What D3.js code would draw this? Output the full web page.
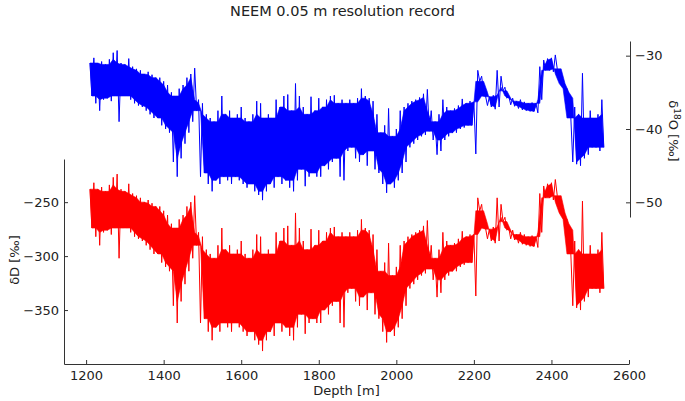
<!DOCTYPE html>
<html><head><meta charset="utf-8">
<script src="https://cdn.jsdelivr.net/npm/d3@7"></script>
<style>
html,body{margin:0;padding:0;background:#fff;}
svg{display:block;font-family:"DejaVu Sans",sans-serif;}
</style></head><body>
<svg id="chart" width="685" height="401"></svg>
<script>
const titleText = "NEEM 0.05 m resolution record";
const xTicks = [1200, 1400, 1600, 1800, 2000, 2200, 2400, 2600];
const dDTicks = [-250, -300, -350];
const d18OTicks = [-30, -40, -50];

// depth of each reading [m]
const depth = [
1210,1215,1220,1225,1230,1235,1240,1245,1250,1255,1260,1265,1270,1275,1280,1285,1290,1295,1300,1305,
1310,1315,1320,1325,1330,1335,1340,1345,1350,1355,1360,1365,1370,1375,1380,1385,1390,1395,1400,1405,
1410,1415,1420,1425,1430,1435,1440,1445,1450,1455,1460,1465,1470,1475,1480,1485,1490,1495,1500,1505,
1510,1515,1520,1525,1530,1535,1540,1545,1550,1555,1560,1565,1570,1575,1580,1585,1590,1595,1600,1605,
1610,1615,1620,1625,1630,1635,1640,1645,1650,1655,1660,1665,1670,1675,1680,1685,1690,1695,1700,1705,
1710,1715,1720,1725,1730,1735,1740,1745,1750,1755,1760,1765,1770,1775,1780,1785,1790,1795,1800,1805,
1810,1815,1820,1825,1830,1835,1840,1845,1850,1855,1860,1865,1870,1875,1880,1885,1890,1895,1900,1905,
1910,1915,1920,1925,1930,1935,1940,1945,1950,1955,1960,1965,1970,1975,1980,1985,1990,1995,2000,2005,
2010,2015,2020,2025,2030,2035,2040,2045,2050,2055,2060,2065,2070,2075,2080,2085,2090,2095,2100,2105,
2110,2115,2120,2125,2130,2135,2140,2145,2150,2155,2160,2165,2170,2175,2180,2185,2190,2195,2200,2205,
2210,2215,2220,2225,2230,2235,2240,2245,2250,2255,2260,2265,2270,2275,2280,2285,2290,2295,2300,2305,
2310,2315,2320,2325,2330,2335,2340,2345,2350,2355,2360,2365,2370,2375,2380,2385,2390,2395,2400,2405,
2410,2415,2420,2425,2430,2435,2440,2445,2450,2455,2460,2465,2470,2475,2480,2485,2490,2495,2500,2505,
2510,2515,2520,2525,2530,2535
];

// δ18O [‰] readings (alternating upper / lower excursions of the noisy record)
const d18O = [
-31.0,-35.5, -30.3,-36.5, -31.0,-37.5, -30.8,-36.0, -31.2,-35.8, -30.5,-36.2, -29.6,-35.5, -29.3,-39.0, -31.0,-35.5, -31.2,-35.5,
-30.4,-36.0, -31.5,-36.5, -31.8,-36.8, -32.0,-37.0, -32.5,-37.5, -32.2,-38.0, -32.6,-38.5, -33.0,-38.5, -33.0,-39.5, -33.5,-40.0,
-34.0,-40.5, -35.0,-44.5, -35.5,-46.5, -34.5,-44.0, -34.0,-42.0, -33.0,-40.5, -32.5,-39.0, -31.7,-37.5, -36.0,-46.5, -36.5,-46.0,
-38.0,-47.5, -38.5,-48.5, -39.0,-47.0, -37.5,-47.5, -35.5,-46.5, -38.0,-47.0, -37.5,-47.5, -38.5,-46.5, -38.0,-47.0, -37.0,-47.5,
-38.5,-48.0, -39.0,-47.5, -38.0,-48.5, -36.2,-49.0, -36.5,-49.7, -38.5,-48.5, -38.0,-47.5, -38.5,-48.0, -36.0,-46.5, -37.0,-47.5,
-35.5,-47.0, -35.3,-48.0, -37.5,-48.5, -33.8,-47.0, -35.5,-45.5, -37.0,-47.8, -38.0,-46.5, -35.6,-46.0, -37.5,-46.5, -35.8,-46.5,
-37.0,-45.0, -36.0,-45.5, -35.5,-44.5, -35.4,-44.0, -36.5,-46.5, -36.0,-47.0, -36.5,-43.0, -36.0,-42.5, -36.5,-44.0, -35.8,-44.5,
-34.5,-43.5, -35.5,-45.0, -35.8,-43.0, -36.2,-45.5, -38.0,-46.0, -40.5,-47.5, -39.5,-48.7, -37.2,-47.5, -41.0,-48.0, -40.0,-47.0,
-37.5,-46.0, -37.0,-44.5, -36.5,-42.5, -36.2,-42.0, -36.0,-41.5, -35.7,-41.0, -35.2,-40.8, -34.6,-40.3, -37.5,-41.5, -39.0,-43.5,
-38.0,-43.0, -36.0,-41.5, -37.0,-41.0, -37.5,-40.5, -37.2,-40.5, -36.8,-40.0, -35.9,-39.8, -36.5,-39.5, -36.2,-39.5, -36.3,-43.4,
-32.0,-33.5, -32.8,-35.0, -35.5,-36.8, -35.6,-37.0, -35.4,-37.3, -32.0,-37.0, -32.8,-34.8, -34.3,-35.8, -35.5,-36.7, -35.8,-36.9,
-36.2,-37.2, -36.0,-37.4, -36.3,-37.5, -36.5,-37.6, -36.4,-37.6, -36.5,-37.8, -31.5,-36.0, -30.6,-32.0, -30.4,-32.0, -30.3,-32.2,
-29.9,-31.8, -32.5,-33.8, -33.8,-35.0, -34.5,-35.8, -38.5,-44.5, -37.0,-44.8, -38.0,-45.0, -32.4,-44.0, -38.5,-43.5, -37.5,-42.5,
-38.5,-42.5, -38.0,-43.0, -36.0,-42.5
];

// δD [‰] readings (alternating upper / lower excursions of the noisy record)
const dD = [
-238,-274, -232,-282, -238,-290, -236,-278, -240,-276, -234,-280, -227,-274, -224,-302, -238,-274, -240,-274,
-233,-278, -242,-282, -244,-284, -246,-286, -250,-290, -248,-294, -251,-298, -254,-298, -254,-306, -258,-310,
-262,-314, -270,-346, -274,-362, -266,-342, -262,-326, -254,-314, -250,-302, -244,-290, -278,-362, -282,-358,
-294,-370, -298,-378, -302,-366, -290,-370, -274,-362, -294,-366, -290,-370, -298,-362, -294,-366, -286,-370,
-298,-374, -302,-370, -294,-378, -280,-382, -282,-388, -298,-378, -294,-370, -298,-374, -278,-362, -286,-370,
-274,-366, -272,-374, -290,-378, -260,-366, -274,-354, -286,-372, -294,-362, -275,-358, -290,-362, -276,-362,
-286,-350, -278,-354, -274,-346, -273,-342, -282,-362, -278,-366, -282,-334, -278,-330, -282,-342, -276,-346,
-266,-338, -274,-350, -276,-334, -280,-354, -294,-358, -314,-370, -306,-380, -288,-370, -318,-374, -310,-366,
-290,-358, -286,-346, -282,-330, -280,-326, -278,-322, -276,-318, -272,-316, -267,-312, -290,-322, -302,-338,
-294,-334, -278,-322, -286,-318, -290,-314, -288,-314, -284,-310, -277,-308, -282,-306, -280,-306, -280,-337,
-246,-258, -252,-270, -274,-284, -275,-286, -273,-288, -246,-286, -252,-268, -264,-276, -274,-284, -276,-285,
-280,-288, -278,-289, -280,-290, -282,-291, -281,-291, -282,-292, -242,-278, -235,-246, -233,-246, -232,-248,
-229,-244, -250,-260, -260,-270, -266,-276, -298,-346, -286,-348, -294,-350, -249,-342, -298,-338, -290,-330,
-298,-330, -294,-334, -278,-330
];

const svg = d3.select("#chart");
const axisColor = "#333";
const textColor = "#222";

const x = d3.scaleLinear().domain([1143, 2600]).range([64, 629]);
const yL = d3.scaleLinear().domain([-400, -210]).range([364, 159]);
const yR = d3.scaleLinear().domain([-52, -28]).range([217, 41]);

// Solid core of the record: the least extreme of neighbouring upper / lower readings;
// the individual readings are traced on top so excursions show as thin spikes.
function corePath(values, y) {
  const ups = [], downs = [];
  values.forEach((v, i) => (i % 2 === 0 ? ups : downs).push(i));
  const nb = (idx, k) => [idx[Math.max(0, k - 1)], idx[k], idx[Math.min(idx.length - 1, k + 1)]].map(j => values[j]);
  const top = ups.map((j, k) => [x(depth[j]), y(d3.min(nb(ups, k)))]);
  const bottom = downs.map((j, k) => [x(depth[j]), y(d3.max(nb(downs, k)))]);
  return d3.line()(top.concat(bottom.reverse())) + "Z";
}

function drawSeries(values, y, color) {
  svg.append("path").attr("d", corePath(values, y))
    .attr("fill", color).attr("stroke", color).attr("stroke-width", 0.6)
    .attr("stroke-linejoin", "bevel");
  const line = d3.line().x((d, i) => x(depth[i])).y(d => y(d));
  svg.append("path").datum(values).attr("d", line)
    .attr("fill", "none").attr("stroke", color).attr("stroke-width", 1)
    .attr("stroke-linejoin", "bevel");
}
drawSeries(d18O, yR, "#0000ff");
drawSeries(dD, yL, "#ff0000");

function styleAxis(g) {
  g.select(".domain").attr("stroke", axisColor).attr("stroke-width", 1);
  g.selectAll(".tick line").attr("stroke", axisColor).attr("stroke-width", 1);
  g.selectAll(".tick text").attr("fill", textColor).style("font-size", "13px")
    .style("font-family", "'DejaVu Sans', sans-serif");
}

svg.append("g").attr("transform", "translate(0,364)")
  .call(d3.axisBottom(x).tickValues(xTicks).tickFormat(d3.format("d"))
    .tickSizeInner(-4).tickSizeOuter(0).tickPadding(7))
  .call(styleAxis);

svg.append("g").attr("transform", "translate(64,0)")
  .call(d3.axisLeft(yL).tickValues(dDTicks).tickSizeInner(-4).tickSizeOuter(0).tickPadding(5))
  .call(styleAxis);

svg.append("g").attr("transform", "translate(630,0)")
  .call(d3.axisRight(yR).tickValues(d18OTicks).tickSizeInner(-4).tickSizeOuter(0).tickPadding(5))
  .call(styleAxis);

// titles and labels
svg.append("text").attr("x", 342.5).attr("y", 16).attr("text-anchor", "middle")
  .attr("fill", textColor).style("font-size", "14.5px").text(titleText);

svg.append("text").attr("x", 346.5).attr("y", 395).attr("text-anchor", "middle")
  .attr("fill", textColor).style("font-size", "13px").text("Depth [m]");

svg.append("text").attr("transform", "translate(19,260) rotate(-90)")
  .attr("text-anchor", "middle").attr("fill", textColor).style("font-size", "13px")
  .text("δD [‰]");

const rl = svg.append("text").attr("transform", "translate(669,131) rotate(90)")
  .attr("text-anchor", "middle").attr("fill", textColor).style("font-size", "13px");
rl.append("tspan").text("δ");
rl.append("tspan").attr("dy", "-5").style("font-size", "9px").text("18");
rl.append("tspan").attr("dy", "5").text("O [‰]");
</script>
</body></html>
